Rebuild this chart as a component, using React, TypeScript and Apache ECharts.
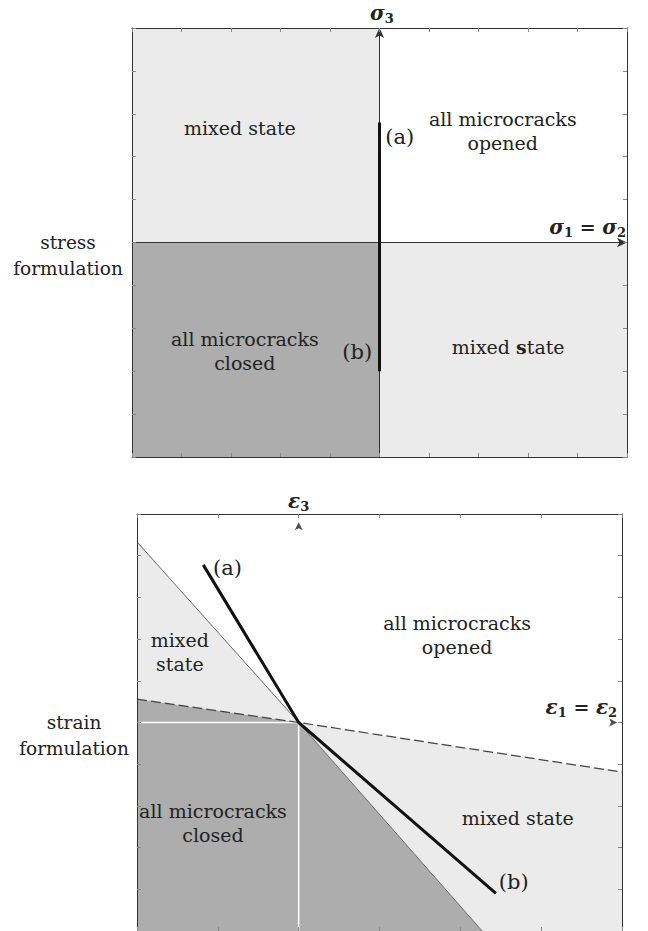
import React, { useEffect, useRef } from "react";
import * as echarts from "echarts";

// ---------- data ----------
// stress formulation panel, axes -5..5
const stressMixedUpper = [[-5, 0], [0, 0], [0, 5], [-5, 5]];
const stressClosed = [[-5, -5], [0, -5], [0, 0], [-5, 0]];
const stressMixedLower = [[0, -5], [5, -5], [5, 0], [0, 0]];
const stressCriterion = [[0, 2.8], [0, -3.0]];
const stressAxisH = [[-5, 0], [5, 0]];
const stressAxisV = [[0, -5], [0, 5]];
const stressLabels = [
  { t: "mixed state", x: -2.82, y: 2.67 },
  { t: "(a)", x: 0.41, y: 2.46, fs: 21 },
  { t: "all microcracks\nopened", x: 2.49, y: 2.59 },
  { t: "all microcracks\nclosed", x: -2.72, y: -2.54 },
  { t: "(b)", x: -0.45, y: -2.55, fs: 21 },
  { t: "mixed {b|s}tate", x: 2.6, y: -2.44 },
];
const stressMath = [
  { t: "{v|σ}{s|3}", x: 0.05, y: 5.35, align: "center" },
  { t: "{v|σ}{s|1}{e| = }{v|σ}{s|2}", x: 4.98, y: 0.36, align: "right" },
];

// strain formulation panel, x -2..4, y -5..5
const strainMixedUpper = [[-2, 4.33], [0, 0], [-2, 0.56]];
const strainClosed = [[-2, 0.56], [0, 0], [2.27, -5], [-2, -5]];
const strainMixedLower = [[0, 0], [4, -1.19], [4, -5], [2.27, -5]];
const strainBoundary1 = [[-2, 4.33], [0, 0], [2.27, -5]];
const strainBoundary2 = [[-2, 0.56], [0, 0], [4, -1.19]];
const strainCriterion = [[-1.18, 3.78], [0, 0], [2.44, -4.1]];
const strainAxisH = [[-2, 0], [4, 0]];
const strainAxisV = [[0, -5], [0, 5]];
const strainArrowUp = [[0, 4.8]];
const strainArrowRight = [[3.94, 0]];
const strainLabels = [
  { t: "(a)", x: -0.88, y: 3.7, fs: 21 },
  { t: "mixed\nstate", x: -1.47, y: 1.69 },
  { t: "all microcracks\nopened", x: 1.96, y: 2.1 },
  { t: "all microcracks\nclosed", x: -1.06, y: -2.41 },
  { t: "mixed state", x: 2.71, y: -2.29 },
  { t: "(b)", x: 2.66, y: -3.83, fs: 21 },
];
const strainMath = [
  { t: "{v|ε}{s|3}", x: 0.0, y: 5.3, align: "center" },
  { t: "{v|ε}{s|1}{e| = }{v|ε}{s|2}", x: 3.94, y: 0.37, align: "right" },
];

const LIGHT = "#ebebeb";
const DARK = "#adadad";
const TEXT = "#222";
const SERIF = "DejaVu Serif";
const FS = 19;

const mathRich = {
  v: { fontFamily: SERIF, fontWeight: "bold", fontStyle: "italic", fontSize: 20, lineHeight: 24, verticalAlign: "middle", color: TEXT },
  s: { fontFamily: SERIF, fontWeight: "bold", fontSize: 13, lineHeight: 24, verticalAlign: "bottom", color: TEXT },
  e: { fontFamily: SERIF, fontWeight: "bold", fontSize: 19, lineHeight: 24, color: TEXT },
};
const textRich = {
  b: { fontFamily: SERIF, fontWeight: "bold", fontSize: FS, lineHeight: 24, color: TEXT },
};

function polygon(points: number[][], color: string, ai: number) {
  return {
    type: "custom",
    xAxisIndex: ai,
    yAxisIndex: ai,
    z: 1,
    silent: true,
    data: points,
    renderItem: (params: any, api: any) => {
      if (params.dataIndex !== 0) return null;
      const pts = points.map((p) => api.coord(p));
      return { type: "polygon", shape: { points: pts }, style: { fill: color } };
    },
  };
}

function line(points: number[][], ai: number, style: any, z: number) {
  return {
    type: "line",
    xAxisIndex: ai,
    yAxisIndex: ai,
    z,
    silent: true,
    data: points,
    showSymbol: false,
    symbol: "none",
    lineStyle: style,
  };
}

function labels(list: any[], ai: number, math: boolean) {
  return {
    type: "custom",
    xAxisIndex: ai,
    yAxisIndex: ai,
    z: 10,
    clip: false,
    silent: true,
    data: list.map((l, i) => [l.x, l.y, i]),
    renderItem: (params: any, api: any) => {
      const l = list[params.dataIndex];
      const p = api.coord([l.x, l.y]);
      const fs = l.fs || FS;
      return {
        type: "text",
        x: p[0],
        y: p[1],
        style: {
          text: l.t,
          fill: TEXT,
          font: fs + "px " + SERIF,
          fontFamily: SERIF,
          fontSize: fs,
          lineHeight: 24,
          align: l.align || "center",
          verticalAlign: "middle",
          rich: math ? mathRich : textRich,
        },
      };
    },
  };
}

function axesFor(grid: number, min: number, max: number, kind: "x" | "y") {
  const common = {
    type: "value",
    gridIndex: grid,
    min,
    max,
    interval: 1,
    z: 20,
    axisLabel: { show: false },
    splitLine: { show: false },
    axisLine: { show: true, onZero: false, lineStyle: { color: "#333", width: 1 } },
    axisTick: { show: true, inside: true, length: 4, lineStyle: { color: "#888" } },
  };
  return kind === "x"
    ? [
        { ...common, position: "bottom" },
        { ...common, position: "top" },
      ]
    : [
        { ...common, position: "left" },
        { ...common, position: "right" },
      ];
}

export default function App() {
  const ref = useRef<HTMLDivElement>(null);
  useEffect(() => {
    if (!ref.current) return;
    const chart = echarts.init(ref.current, null, { renderer: "svg" });
    const xAxes = [...axesFor(0, -5, 5, "x"), ...axesFor(1, -2, 4, "x")];
    const yAxes = [...axesFor(0, -5, 5, "y"), ...axesFor(1, -5, 5, "y")];
    const A0 = 0;
    const A1 = 2;
    const sideStyle = {
      fill: TEXT,
      font: "18.5px " + SERIF,
      fontFamily: SERIF,
      fontSize: 18.5,
      lineHeight: 26,
      align: "center",
      verticalAlign: "middle",
    };
    chart.setOption({
      animation: false,
      backgroundColor: "#fff",
      textStyle: { fontFamily: SERIF },
      grid: [
        { left: 132, top: 28, width: 495, height: 429 },
        { left: 137, top: 514, width: 485, height: 417 },
      ],
      xAxis: xAxes,
      yAxis: yAxes,
      graphic: [
        { type: "text", x: 68, y: 255, style: { ...sideStyle, text: "stress\nformulation" } },
        { type: "text", x: 74, y: 735, style: { ...sideStyle, text: "strain\nformulation" } },
      ],
      series: [
        polygon(stressMixedUpper, LIGHT, A0),
        polygon(stressClosed, DARK, A0),
        polygon(stressMixedLower, LIGHT, A0),
        {
          type: "line",
          xAxisIndex: A0,
          yAxisIndex: A0,
          data: [],
          z: 3,
          markLine: {
            silent: true,
            symbol: ["none", "arrow"],
            symbolSize: [7, 10],
            label: { show: false },
            lineStyle: { color: "#333", width: 1, type: "solid" },
            data: [
              [{ coord: stressAxisH[0] }, { coord: stressAxisH[1] }],
              [{ coord: stressAxisV[0] }, { coord: stressAxisV[1] }],
            ],
          },
        },
        line(stressCriterion, A0, { color: "#111", width: 3 }, 5),
        labels(stressLabels, A0, false),
        labels(stressMath, A0, true),

        polygon(strainMixedUpper, LIGHT, A1),
        polygon(strainClosed, DARK, A1),
        polygon(strainMixedLower, LIGHT, A1),
        line(strainAxisH, A1, { color: "#fff", width: 1.5 }, 2),
        line(strainAxisV, A1, { color: "#fff", width: 1.5 }, 2),
        line(strainBoundary1, A1, { color: "#666", width: 1 }, 3),
        line(strainBoundary2, A1, { color: "#444", width: 1.2, type: [10, 4] }, 3),
        line(strainCriterion, A1, { color: "#111", width: 3 }, 5),
        {
          type: "scatter",
          xAxisIndex: A1,
          yAxisIndex: A1,
          z: 6,
          silent: true,
          data: strainArrowUp,
          symbol: "arrow",
          symbolSize: [6, 8],
          symbolRotate: 0,
          itemStyle: { color: "#222" },
        },
        {
          type: "scatter",
          xAxisIndex: A1,
          yAxisIndex: A1,
          z: 6,
          silent: true,
          data: strainArrowRight,
          symbol: "arrow",
          symbolSize: [6, 8],
          symbolRotate: -90,
          itemStyle: { color: "#222" },
        },
        labels(strainLabels, A1, false),
        labels(strainMath, A1, true),
      ],
    });
    return () => chart.dispose();
  }, []);
  return (
    <div
      ref={ref}
      style={{ position: "fixed", left: 0, top: 0, width: 648, height: 931, background: "#fff" }}
    />
  );
}
